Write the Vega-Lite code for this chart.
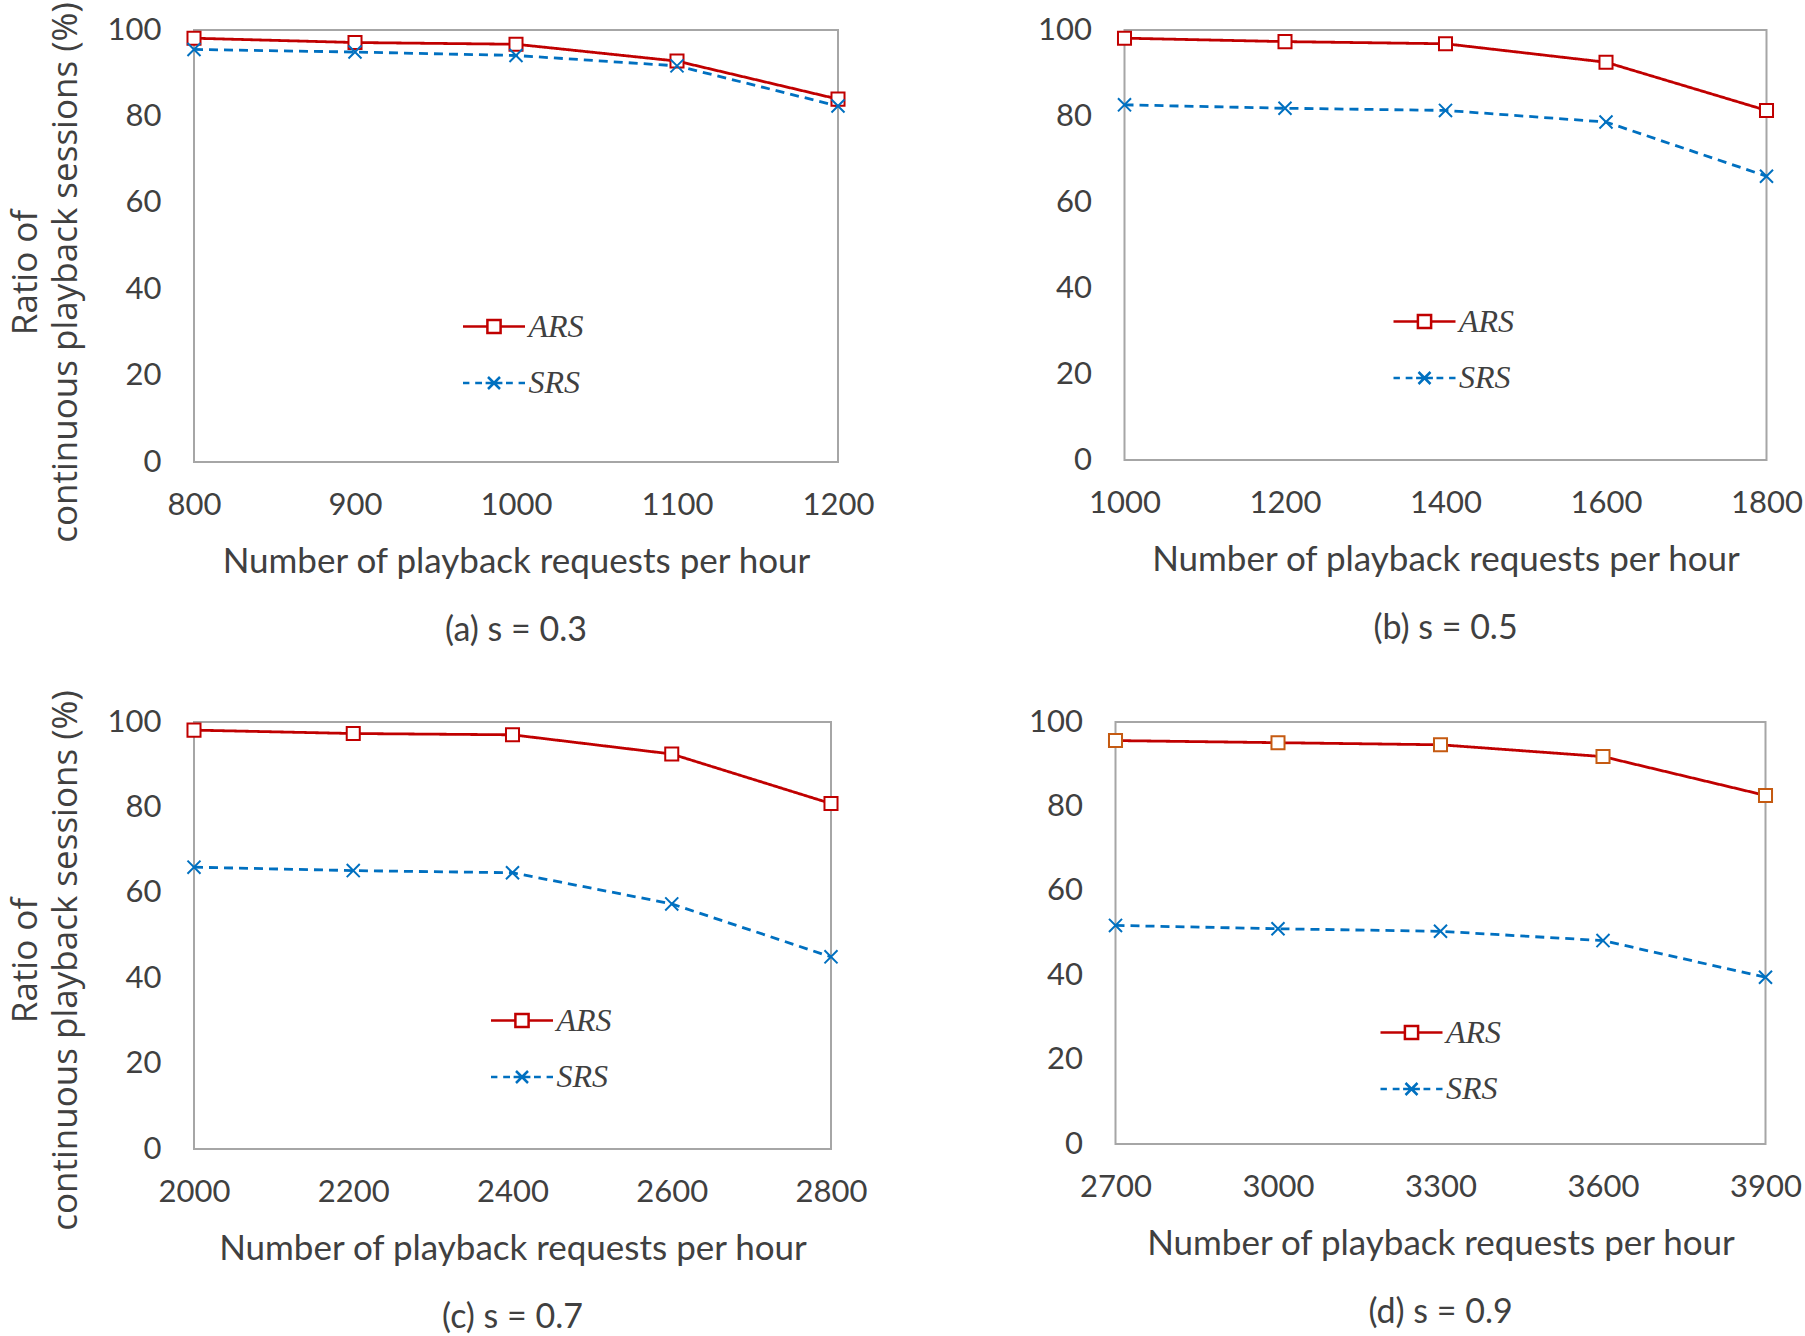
{
  "$schema": "https://vega.github.io/schema/vega-lite/v6.json",
  "background": "white",
  "padding": {"left": 7, "top": 0, "right": 2, "bottom": 2},
  "data": {"values": [
    {"panel": "a", "series": "ARS", "x": 800, "y": 98.1},
    {"panel": "a", "series": "ARS", "x": 900, "y": 97.1},
    {"panel": "a", "series": "ARS", "x": 1000, "y": 96.7},
    {"panel": "a", "series": "ARS", "x": 1100, "y": 92.8},
    {"panel": "a", "series": "ARS", "x": 1200, "y": 84.0},
    {"panel": "a", "series": "SRS", "x": 800, "y": 95.5},
    {"panel": "a", "series": "SRS", "x": 900, "y": 94.9},
    {"panel": "a", "series": "SRS", "x": 1000, "y": 94.1},
    {"panel": "a", "series": "SRS", "x": 1100, "y": 91.7},
    {"panel": "a", "series": "SRS", "x": 1200, "y": 82.4},
    {"panel": "b", "series": "ARS", "x": 1000, "y": 98.1},
    {"panel": "b", "series": "ARS", "x": 1200, "y": 97.3},
    {"panel": "b", "series": "ARS", "x": 1400, "y": 96.8},
    {"panel": "b", "series": "ARS", "x": 1600, "y": 92.5},
    {"panel": "b", "series": "ARS", "x": 1800, "y": 81.3},
    {"panel": "b", "series": "SRS", "x": 1000, "y": 82.6},
    {"panel": "b", "series": "SRS", "x": 1200, "y": 81.8},
    {"panel": "b", "series": "SRS", "x": 1400, "y": 81.3},
    {"panel": "b", "series": "SRS", "x": 1600, "y": 78.6},
    {"panel": "b", "series": "SRS", "x": 1800, "y": 66.0},
    {"panel": "c", "series": "ARS", "x": 2000, "y": 98.1},
    {"panel": "c", "series": "ARS", "x": 2200, "y": 97.3},
    {"panel": "c", "series": "ARS", "x": 2400, "y": 97.0},
    {"panel": "c", "series": "ARS", "x": 2600, "y": 92.5},
    {"panel": "c", "series": "ARS", "x": 2800, "y": 80.9},
    {"panel": "c", "series": "SRS", "x": 2000, "y": 66.0},
    {"panel": "c", "series": "SRS", "x": 2200, "y": 65.2},
    {"panel": "c", "series": "SRS", "x": 2400, "y": 64.7},
    {"panel": "c", "series": "SRS", "x": 2600, "y": 57.4},
    {"panel": "c", "series": "SRS", "x": 2800, "y": 45.0},
    {"panel": "d", "series": "ARS", "x": 2700, "y": 95.6},
    {"panel": "d", "series": "ARS", "x": 3000, "y": 95.1},
    {"panel": "d", "series": "ARS", "x": 3300, "y": 94.6},
    {"panel": "d", "series": "ARS", "x": 3600, "y": 91.8},
    {"panel": "d", "series": "ARS", "x": 3900, "y": 82.6},
    {"panel": "d", "series": "SRS", "x": 2700, "y": 51.8},
    {"panel": "d", "series": "SRS", "x": 3000, "y": 51.0},
    {"panel": "d", "series": "SRS", "x": 3300, "y": 50.4},
    {"panel": "d", "series": "SRS", "x": 3600, "y": 48.2},
    {"panel": "d", "series": "SRS", "x": 3900, "y": 39.5}
  ]},
  "config": {
    "view": {"stroke": "#A6A6A6", "strokeWidth": 2},
    "axis": {"grid": false, "domain": false, "ticks": false, "tickSize": 0, "labelFont": "Lato", "labelFontSize": 31, "labelColor": "#404040", "titleFont": "Lato", "titleFontSize": 35, "titleFontWeight": "normal", "titleColor": "#404040"},
    "axisX": {"labelFlush": false, "labelPadding": 28, "titlePadding": 24, "labelOverlap": false, "format": "d"},
    "axisY": {"labelPadding": 33},
    "title": {"orient": "bottom", "frame": "group", "anchor": "middle", "font": "Lato", "fontSize": 34, "fontWeight": "normal", "color": "#404040", "offset": 35},
    "legend": {"title": null, "orient": "none", "symbolSize": 1600, "symbolStrokeWidth": 2.5, "labelFont": "Liberation Serif", "labelFontStyle": "italic", "labelFontSize": 32, "labelColor": "#404040", "labelOffset": 13, "rowPadding": 18.5, "padding": 0}
  },
  "resolve": {"scale": {"color": "independent"}, "legend": {"color": "independent"}},
  "spacing": 39,
  "vconcat": [
    {
      "spacing": 161.5,
      "resolve": {"scale": {"color": "independent"}, "legend": {"color": "independent"}},
      "hconcat": [
        {
          "width": 644, "height": 432,
          "title": {"text": "(a) s = 0.3"},
          "transform": [{"filter": "datum.panel == 'a'"}],
          "encoding": {
            "x": {"field": "x", "type": "quantitative", "scale": {"domain": [800, 1200], "nice": false, "zero": false}, "axis": {"values": [800, 900, 1000, 1100, 1200], "title": "Number of playback requests per hour"}},
            "y": {"field": "y", "type": "quantitative", "scale": {"domain": [0, 100], "nice": false}, "axis": {"values": [0, 20, 40, 60, 80, 100], "title": ["Ratio of", "continuous playback sessions (%)"], "titleFont": "Open Sans", "titleFontSize": 35, "titleLineHeight": 40, "titleY": 242, "titlePadding": 24}}
          },
          "layer": [
            {"mark": {"type": "line", "strokeWidth": 2.8},
             "encoding": {
               "color": {"field": "series", "type": "nominal", "scale": {"domain": ["ARS", "SRS"], "range": ["#C00000", "#0070C0"]},
                 "legend": {"legendX": 278.5, "legendY": 275, "encode": {"symbols": {"update": {"shape": {"signal": "datum.value == 'ARS' ? 'M-1.55,0H-0.33M0.33,0H1.55M-0.33,-0.33H0.33V0.33H-0.33Z' : 'M-1.55,0H-1.23M-0.94,0H-0.6M-0.42,0H0.42M0.6,0H0.94M1.23,0H1.55M-0.3,-0.3L0.3,0.3M-0.3,0.3L0.3,-0.3'"}, "fill": {"value": "white"}}}}}},
               "strokeDash": {"condition": {"test": "datum.series == 'SRS'", "value": [9, 6]}, "value": [1, 0]}
             }},
            {"mark": {"type": "point", "filled": true, "fill": "white", "strokeWidth": 2, "size": 170, "opacity": 1},
             "encoding": {
               "stroke": {"condition": {"test": "datum.series == 'SRS'", "value": "#0070C0"}, "value": "#C00000"},
               "shape": {"condition": {"test": "datum.series == 'SRS'", "value": "M-1,-1L1,1M-1,1L1,-1"}, "value": "square"}
             }}
          ]
        },
        {
          "width": 642, "height": 430,
          "title": {"text": "(b) s = 0.5"},
          "transform": [{"filter": "datum.panel == 'b'"}],
          "encoding": {
            "x": {"field": "x", "type": "quantitative", "scale": {"domain": [1000, 1800], "nice": false, "zero": false}, "axis": {"values": [1000, 1200, 1400, 1600, 1800], "title": "Number of playback requests per hour"}},
            "y": {"field": "y", "type": "quantitative", "scale": {"domain": [0, 100], "nice": false}, "axis": {"values": [0, 20, 40, 60, 80, 100], "title": null}}
          },
          "layer": [
            {"mark": {"type": "line", "strokeWidth": 2.8},
             "encoding": {
               "color": {"field": "series", "type": "nominal", "scale": {"domain": ["ARS", "SRS"], "range": ["#C00000", "#0070C0"]},
                 "legend": {"legendX": 278.5, "legendY": 270, "encode": {"symbols": {"update": {"shape": {"signal": "datum.value == 'ARS' ? 'M-1.55,0H-0.33M0.33,0H1.55M-0.33,-0.33H0.33V0.33H-0.33Z' : 'M-1.55,0H-1.23M-0.94,0H-0.6M-0.42,0H0.42M0.6,0H0.94M1.23,0H1.55M-0.3,-0.3L0.3,0.3M-0.3,0.3L0.3,-0.3'"}, "fill": {"value": "white"}}}}}},
               "strokeDash": {"condition": {"test": "datum.series == 'SRS'", "value": [9, 6]}, "value": [1, 0]}
             }},
            {"mark": {"type": "point", "filled": true, "fill": "white", "strokeWidth": 2, "size": 170, "opacity": 1},
             "encoding": {
               "stroke": {"condition": {"test": "datum.series == 'SRS'", "value": "#0070C0"}, "value": "#C00000"},
               "shape": {"condition": {"test": "datum.series == 'SRS'", "value": "M-1,-1L1,1M-1,1L1,-1"}, "value": "square"}
             }}
          ]
        }
      ]
    },
    {
      "spacing": 159.5,
      "resolve": {"scale": {"color": "independent"}, "legend": {"color": "independent"}},
      "hconcat": [
        {
          "width": 637, "height": 427,
          "title": {"text": "(c) s = 0.7"},
          "transform": [{"filter": "datum.panel == 'c'"}],
          "encoding": {
            "x": {"field": "x", "type": "quantitative", "scale": {"domain": [2000, 2800], "nice": false, "zero": false}, "axis": {"values": [2000, 2200, 2400, 2600, 2800], "title": "Number of playback requests per hour"}},
            "y": {"field": "y", "type": "quantitative", "scale": {"domain": [0, 100], "nice": false}, "axis": {"values": [0, 20, 40, 60, 80, 100], "title": ["Ratio of", "continuous playback sessions (%)"], "titleFont": "Open Sans", "titleFontSize": 35, "titleLineHeight": 40, "titleY": 238, "titlePadding": 24}}
          },
          "layer": [
            {"mark": {"type": "line", "strokeWidth": 2.8},
             "encoding": {
               "color": {"field": "series", "type": "nominal", "scale": {"domain": ["ARS", "SRS"], "range": ["#C00000", "#0070C0"]},
                 "legend": {"legendX": 306.5, "legendY": 277, "encode": {"symbols": {"update": {"shape": {"signal": "datum.value == 'ARS' ? 'M-1.55,0H-0.33M0.33,0H1.55M-0.33,-0.33H0.33V0.33H-0.33Z' : 'M-1.55,0H-1.23M-0.94,0H-0.6M-0.42,0H0.42M0.6,0H0.94M1.23,0H1.55M-0.3,-0.3L0.3,0.3M-0.3,0.3L0.3,-0.3'"}, "fill": {"value": "white"}}}}}},
               "strokeDash": {"condition": {"test": "datum.series == 'SRS'", "value": [9, 6]}, "value": [1, 0]}
             }},
            {"mark": {"type": "point", "filled": true, "fill": "white", "strokeWidth": 2, "size": 170, "opacity": 1},
             "encoding": {
               "stroke": {"condition": {"test": "datum.series == 'SRS'", "value": "#0070C0"}, "value": "#C00000"},
               "shape": {"condition": {"test": "datum.series == 'SRS'", "value": "M-1,-1L1,1M-1,1L1,-1"}, "value": "square"}
             }}
          ]
        },
        {
          "width": 650, "height": 422,
          "title": {"text": "(d) s = 0.9"},
          "transform": [{"filter": "datum.panel == 'd'"}],
          "encoding": {
            "x": {"field": "x", "type": "quantitative", "scale": {"domain": [2700, 3900], "nice": false, "zero": false}, "axis": {"values": [2700, 3000, 3300, 3600, 3900], "title": "Number of playback requests per hour"}},
            "y": {"field": "y", "type": "quantitative", "scale": {"domain": [0, 100], "nice": false}, "axis": {"values": [0, 20, 40, 60, 80, 100], "title": null}}
          },
          "layer": [
            {"mark": {"type": "line", "strokeWidth": 2.8},
             "encoding": {
               "color": {"field": "series", "type": "nominal", "scale": {"domain": ["ARS", "SRS"], "range": ["#C00000", "#0070C0"]},
                 "legend": {"legendX": 274.5, "legendY": 289, "encode": {"symbols": {"update": {"shape": {"signal": "datum.value == 'ARS' ? 'M-1.55,0H-0.33M0.33,0H1.55M-0.33,-0.33H0.33V0.33H-0.33Z' : 'M-1.55,0H-1.23M-0.94,0H-0.6M-0.42,0H0.42M0.6,0H0.94M1.23,0H1.55M-0.3,-0.3L0.3,0.3M-0.3,0.3L0.3,-0.3'"}, "fill": {"value": "white"}}}}}},
               "strokeDash": {"condition": {"test": "datum.series == 'SRS'", "value": [9, 6]}, "value": [1, 0]}
             }},
            {"mark": {"type": "point", "filled": true, "fill": "white", "strokeWidth": 2, "size": 170, "opacity": 1},
             "encoding": {
               "stroke": {"condition": {"test": "datum.series == 'SRS'", "value": "#0070C0"}, "value": "#C55A11"},
               "shape": {"condition": {"test": "datum.series == 'SRS'", "value": "M-1,-1L1,1M-1,1L1,-1"}, "value": "square"}
             }}
          ]
        }
      ]
    }
  ]
}
